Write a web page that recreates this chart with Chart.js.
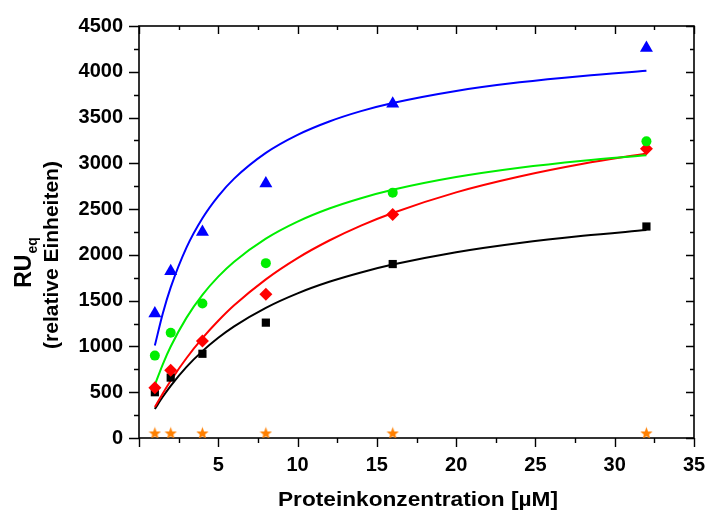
<!DOCTYPE html>
<html>
<head>
<meta charset="utf-8">
<script src="https://cdn.jsdelivr.net/npm/chart.js@4/dist/chart.umd.min.js"></script>
<style>
  html, body { margin: 0; padding: 0; background: #fff; }
  #wrap { width: 709px; height: 512px; }
</style>
</head>
<body>
<div id="wrap"><canvas id="c" width="709" height="512"></canvas></div>
<script>
// Protein concentrations (µM)
const concentrations = [1, 2, 4, 8, 16, 32];

// Measured equilibrium responses (RU_eq) per protein
const blueValues   = [1360, 1820, 2250, 2780, 3650, 4260];
const greenValues  = [900, 1150, 1470, 1910, 2680, 3240];
const redValues    = [550, 740, 1060, 1570, 2440, 3160];
const blackValues  = [500, 660, 920, 1260, 1900, 2310];
const orangeValues = [55, 55, 55, 55, 55, 55];

// Saturation fit curves, sampled along the concentration range
const curveX     = [1, 1.5, 2, 3, 4, 5, 6, 8, 10, 12, 14, 16, 20, 24, 28, 32];
const blueCurve  = [1010, 1360, 1645, 2082, 2400, 2642, 2833, 3114, 3311, 3457, 3570, 3659, 3791, 3885, 3955, 4010];
const greenCurve = [580, 805, 999, 1315, 1563, 1762, 1925, 2177, 2363, 2506, 2619, 2711, 2850, 2952, 3029, 3089];
const redCurve   = [338, 487, 626, 874, 1090, 1280, 1449, 1733, 1965, 2157, 2320, 2458, 2683, 2856, 2995, 3108];
const blackCurve = [317, 450, 570, 777, 949, 1095, 1220, 1422, 1580, 1706, 1808, 1894, 2029, 2130, 2208, 2271];

// Axis tick values
const xTicks = [0, 5, 10, 15, 20, 25, 30, 35];
const yTicks = [0, 500, 1000, 1500, 2000, 2500, 3000, 3500, 4000, 4500];

const FONT = '"Liberation Sans", Arial, Helvetica, sans-serif';

function pts(xs, ys) { return xs.map((x, i) => ({ x: x, y: ys[i] })); }

// Filled five-pointed star marker
function starMarker(color, size) {
  const c = document.createElement('canvas');
  c.width = size; c.height = size;
  const g = c.getContext('2d');
  const cx = size / 2, cy = size / 2 + 0.6, R = size / 2, r = R * 0.42;
  g.beginPath();
  for (let i = 0; i < 10; i++) {
    const rad = i % 2 === 0 ? R : r;
    const a = -Math.PI / 2 + i * Math.PI / 5;
    const px = cx + rad * Math.cos(a), py = cy + rad * Math.sin(a);
    if (i === 0) g.moveTo(px, py); else g.lineTo(px, py);
  }
  g.closePath();
  g.fillStyle = color;
  g.fill();
  return c;
}

function markerSet(label, values, color, style, radius) {
  return {
    label: label,
    data: pts(concentrations, values),
    showLine: false,
    pointStyle: style,
    pointRadius: radius,
    pointHoverRadius: radius,
    backgroundColor: color,
    borderColor: color,
    borderWidth: 0,
    order: 1
  };
}

function curveSet(label, values, color) {
  return {
    label: label,
    data: pts(curveX, values),
    showLine: true,
    pointRadius: 0,
    borderColor: color,
    backgroundColor: color,
    borderWidth: 2,
    cubicInterpolationMode: 'monotone',
    fill: false,
    order: 2
  };
}

// Box frame with ticks: bottom/left point outward, top/right point inward
const frameTicks = {
  id: 'frameTicks',
  beforeDatasetsDraw(chart) {
    const { ctx, chartArea: a, scales: { x, y } } = chart;
    ctx.save();
    ctx.strokeStyle = '#000';
    ctx.lineWidth = 1.6;
    ctx.strokeRect(a.left, a.top, a.right - a.left, a.bottom - a.top);
    ctx.lineWidth = 1.4;
    ctx.beginPath();
    for (let v = 0; v <= 35; v += 2.5) {
      const p = Math.round(x.getPixelForValue(v)) + 0.5;
      const major = v % 5 === 0;
      ctx.moveTo(p, a.bottom); ctx.lineTo(p, a.bottom + (major ? 9 : 5));
      ctx.moveTo(p, a.top); ctx.lineTo(p, a.top + (major ? 8 : 4));
    }
    for (let v = 0; v <= 4500; v += 250) {
      const p = Math.round(y.getPixelForValue(v)) + 0.5;
      const major = v % 500 === 0;
      ctx.moveTo(a.left, p); ctx.lineTo(a.left - (major ? 10 : 5), p);
      ctx.moveTo(a.right, p); ctx.lineTo(a.right - (major ? 8 : 4), p);
    }
    ctx.stroke();
    ctx.restore();
  }
};

// Axis titles (y title carries a subscript)
const axisTitles = {
  id: 'axisTitles',
  afterDraw(chart) {
    const ctx = chart.ctx;
    ctx.save();
    ctx.fillStyle = '#000';

    // x title
    ctx.font = 'bold 21px ' + FONT;
    ctx.textAlign = 'center';
    ctx.textBaseline = 'alphabetic';
    const xt = 'Proteinkonzentration [µM]';
    const w = ctx.measureText(xt).width;
    ctx.save();
    ctx.translate(418, 506);
    ctx.scale(280 / w, 1);
    ctx.fillText(xt, 0, 0);
    ctx.restore();

    // y title, second line
    ctx.save();
    ctx.translate(57.5, 255);
    ctx.rotate(-Math.PI / 2);
    ctx.font = 'bold 21px ' + FONT;
    ctx.textAlign = 'center';
    ctx.fillText('(relative Einheiten)', 0, 0);
    ctx.restore();

    // y title, first line: RU with subscript eq
    ctx.save();
    ctx.translate(31, 263);
    ctx.rotate(-Math.PI / 2);
    ctx.textAlign = 'left';
    ctx.font = 'bold 23px ' + FONT;
    const wRU = ctx.measureText('RU').width;
    ctx.font = 'bold 14px ' + FONT;
    const wEq = ctx.measureText('eq').width;
    const start = -(wRU + wEq) / 2;
    ctx.font = 'bold 23px ' + FONT;
    ctx.fillText('RU', start, 0);
    ctx.font = 'bold 14px ' + FONT;
    ctx.fillText('eq', start + wRU + 1, 6);
    ctx.restore();

    ctx.restore();
  }
};

new Chart(document.getElementById('c'), {
  type: 'scatter',
  data: {
    datasets: [
      curveSet('Fit blau', blueCurve, '#0000ff'),
      curveSet('Fit grün', greenCurve, '#00ee00'),
      curveSet('Fit rot', redCurve, '#ff0000'),
      curveSet('Fit schwarz', blackCurve, '#000000'),
      markerSet('blau', blueValues, '#0000ff', 'triangle', 7.5),
      markerSet('grün', greenValues, '#00ee00', 'circle', 5),
      markerSet('rot', redValues, '#ff0000', 'rectRot', 6.5),
      markerSet('schwarz', blackValues, '#000000', 'rect', 5.8),
      markerSet('orange', orangeValues, '#ff8000', starMarker('#ff8000', 13), 6.5)
    ]
  },
  options: {
    responsive: false,
    devicePixelRatio: 1,
    animation: false,
    events: [],
    layout: { padding: { left: 0, right: 15, top: 26, bottom: 0 } },
    plugins: {
      legend: { display: false },
      tooltip: { enabled: false }
    },
    scales: {
      x: {
        type: 'linear',
        min: xTicks[0],
        max: xTicks[xTicks.length - 1],
        afterFit(s) { s.height = 74; s.paddingLeft = 0; s.paddingRight = 0; },
        afterBuildTicks(s) { s.ticks = xTicks.map(v => ({ value: v })); },
        grid: { display: false, drawTicks: false },
        border: { display: false },
        ticks: {
          padding: 15,
          color: '#000',
          font: { family: FONT, size: 20, weight: 'bold' },
          maxRotation: 0,
          callback: v => (v === 0 ? '' : String(v))
        }
      },
      y: {
        type: 'linear',
        min: yTicks[0],
        max: yTicks[yTicks.length - 1],
        afterFit(s) { s.width = 139; s.paddingTop = 0; s.paddingBottom = 0; },
        afterBuildTicks(s) { s.ticks = yTicks.map(v => ({ value: v })); },
        grid: { display: false, drawTicks: false },
        border: { display: false },
        ticks: {
          padding: 16,
          color: '#000',
          font: { family: FONT, size: 20, weight: 'bold' },
          callback: v => String(v)
        }
      }
    }
  },
  plugins: [frameTicks, axisTitles]
});
</script>
</body>
</html>
